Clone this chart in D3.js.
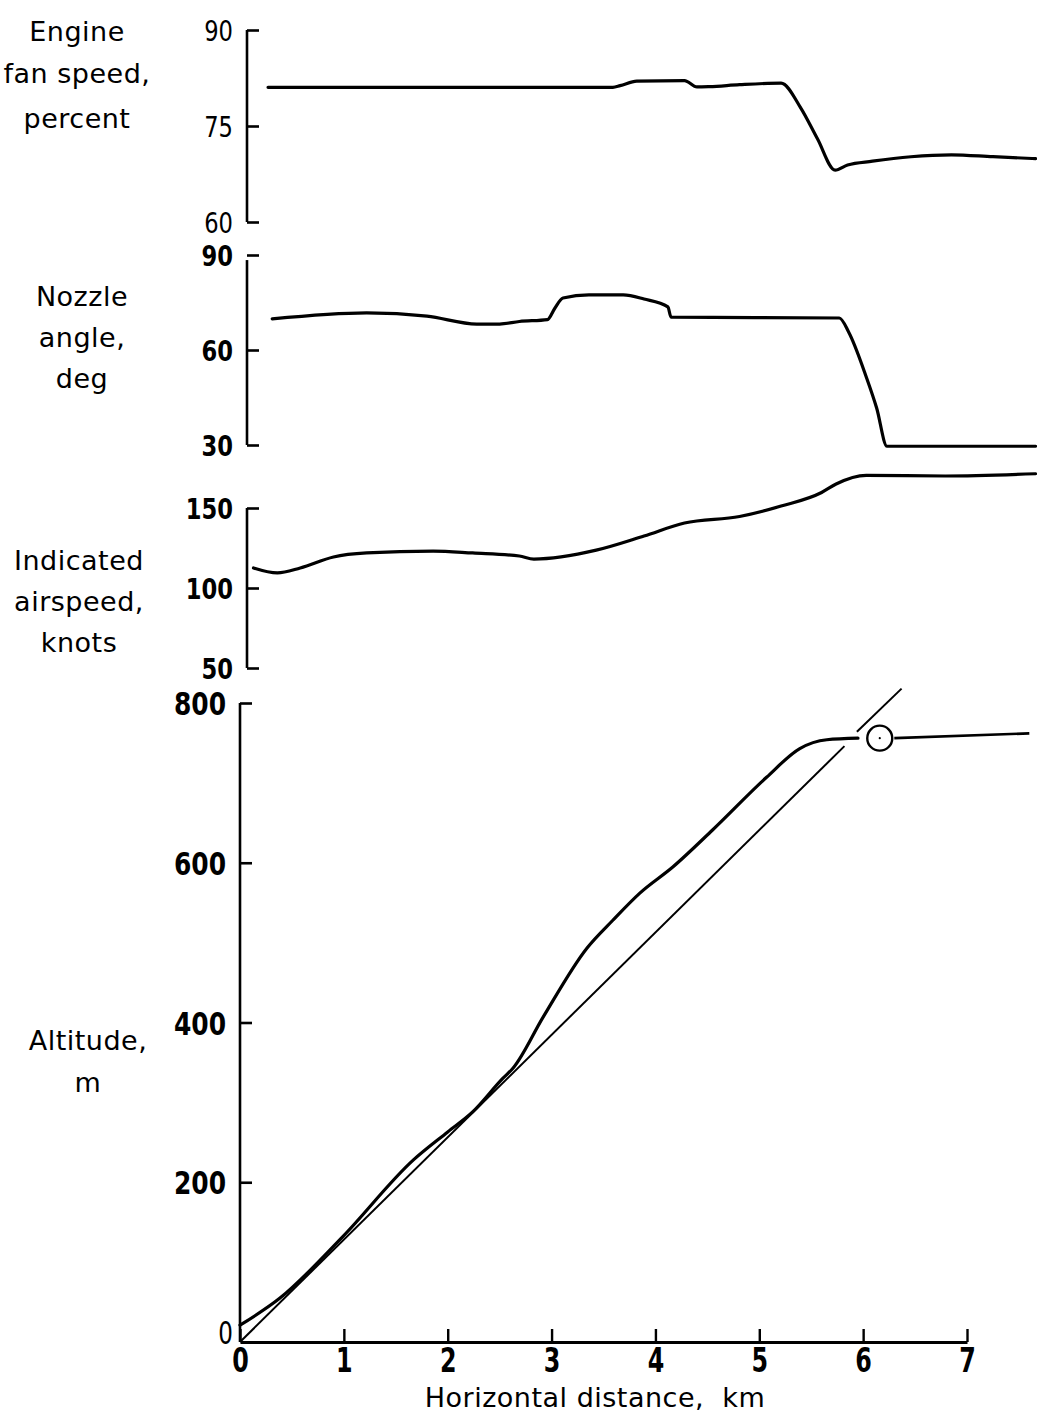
<!DOCTYPE html>
<html>
<head>
<meta charset="utf-8">
<script src="https://cdn.jsdelivr.net/npm/d3@7"></script>
<style>
  html, body { margin: 0; padding: 0; background: #fff; }
  svg { display: block; }
  .lbl { font-family: "DejaVu Sans", sans-serif; font-size: 27px; fill: #000; letter-spacing: 0.5px; white-space: pre; }
  .tk text, text.tk { font-family: "DejaVu Sans", sans-serif; fill: #000; }
</style>
</head>
<body>
<script>
// ---------- data (km, value) ----------
const xTicks = [0, 1, 2, 3, 4, 5, 6, 7];

const fanTicks = [60, 75, 90];
const fanKm  = [0.27, 3.59, 3.66, 3.82, 4.28, 4.40, 4.52, 4.81, 5.21, 5.40, 5.56, 5.73, 5.85, 6.09, 6.46, 6.85, 7.25, 7.66];
const fanPct = [81.05, 81.05, 81.3, 82.0, 82.1, 81.1, 81.15, 81.45, 81.7, 77.8, 73.0, 68.1, 68.9, 69.5, 70.2, 70.5, 70.2, 69.9];

const nozTicks = [30, 60, 90];
const nozKm  = [0.31, 1.22, 1.80, 2.28, 2.50, 2.69, 2.96, 3.03, 3.11, 3.36, 3.69, 3.89, 4.12, 4.15, 5.77, 5.86, 6.03, 6.13, 6.23, 7.66];
const nozDeg = [69.8, 71.7, 70.7, 68.2, 68.2, 69.0, 69.6, 73.1, 76.4, 77.4, 77.4, 76.1, 73.6, 70.4, 70.1, 65.7, 51.5, 41.7, 29.6, 29.6];

const iasTicks = [50, 100, 150];
const iasKm  = [0.13, 0.36, 0.58, 0.90, 1.22, 1.86, 2.24, 2.69, 2.83, 3.43, 3.89, 4.28, 4.81, 5.21, 5.60, 5.74, 6.03, 6.79, 7.66];
const iasKt  = [112.5, 109.4, 112.5, 119.4, 121.9, 123.1, 121.9, 120.0, 118.1, 123.7, 132.5, 140.6, 144.7, 151.2, 159.7, 165.0, 170.4, 170.0, 171.4];

const altTicks = [0, 200, 400, 600, 800];
const altKm = [0, 0.385, 0.99, 1.67, 2.0, 2.24, 2.53, 2.63, 2.92, 3.34, 3.59, 3.85, 4.17, 4.55, 5.07, 5.39, 5.65, 5.95];
const altM  = [21, 55, 132, 228, 263, 288, 330, 343, 407, 493, 528, 562, 595, 641, 707, 743, 754, 756];
const levelKm = [6.30, 7.60];
const levelM  = [756, 762];
const markerKm = 6.16, markerM = 756;
// straight reference glideslope (two pieces, broken where it crosses the trace)
const refKmA = [0, 5.82],  refMA = [0, 746];
const refKmB = [5.94, 6.37], refMB = [764, 818];

// ---------- layout ----------
const W = 1037, H = 1418;
const svg = d3.select("body").append("svg").attr("width", W).attr("height", H);
const x = d3.scaleLinear().domain([0, 7]).range([240, 967]);

// squeeze a text horizontally (condensed typeface look)
function squeeze(sel, f) {
  sel.each(function () {
    const w = this.getComputedTextLength();
    d3.select(this).attr("textLength", w * f).attr("lengthAdjust", "spacingAndGlyphs");
  });
}

const panels = [
  { ticks: fanTicks, domain: [60, 90], range: [222, 30], ax: 247, top: 90, km: fanKm, v: fanPct,
    label: ["Engine", "fan speed,", "percent"], lx: 77, ly: [31, 73, 118], fs: 28, bold: 400, tf: 29 },
  { ticks: nozTicks, domain: [30, 90], range: [445, 255], ax: 247, top: 88.4, km: nozKm, v: nozDeg,
    label: ["Nozzle", "angle,", "deg"], lx: 82, ly: [296, 337, 378], fs: 28, bold: 700, tf: 29 },
  { ticks: iasTicks, domain: [50, 150], range: [668, 508], ax: 247, top: 150, km: iasKm, v: iasKt,
    label: ["Indicated", "airspeed,", "knots"], lx: 79, ly: [560, 601, 642], fs: 28, bold: 700, tf: 29 },
  { ticks: altTicks, domain: [0, 800], range: [1342, 703], ax: 240, top: 800, km: altKm, v: altM,
    label: ["Altitude,", "m"], lx: 88, ly: [1040, 1082], fs: 28, bold: 700, tf: 32 }
];

const line = d3.line().curve(d3.curveMonotoneX);

panels.forEach((p, i) => {
  const y = d3.scaleLinear().domain(p.domain).range(p.range);
  p.y = y;
  const ticks = (i === 3) ? p.ticks.filter(t => t !== 0) : p.ticks;
  const g = svg.append("g").attr("class", "tk").attr("transform", `translate(${p.ax},0)`)
    .call(d3.axisLeft(y).tickValues(ticks).tickSize(-12).tickSizeOuter(0).tickPadding(14));
  g.select(".domain").remove();
  g.selectAll(".tick line").attr("stroke", "#000").attr("stroke-width", 2.6);
  const tt = g.selectAll(".tick text")
    .attr("font-size", p.tf)
    .attr("font-weight", p.bold)
    .attr("dy", "0.36em");
  squeeze(tt, 0.78);
  g.append("line").attr("x1", 0).attr("x2", 0)
    .attr("y1", y(p.top)).attr("y2", y(p.domain[0]))
    .attr("stroke", "#000").attr("stroke-width", 2.6);
  const t = svg.append("text").attr("class", "lbl").attr("text-anchor", "middle")
    .attr("font-size", p.fs);
  p.label.forEach((s, j) => {
    t.append("tspan").attr("x", p.lx).attr("y", p.ly[j]).attr("dy", "0.36em").text(s);
  });
  svg.append("path")
    .attr("d", line(p.km.map((k, j) => [x(k), y(p.v[j])])))
    .attr("fill", "none").attr("stroke", "#000").attr("stroke-width", 3.2)
    .attr("stroke-linejoin", "round").attr("stroke-linecap", "round");
});

// altitude extras
const ya = panels[3].y;
const straight = d3.line();
[[refKmA, refMA], [refKmB, refMB]].forEach(([ks, ms]) => {
  svg.append("path").attr("d", straight(ks.map((k, j) => [x(k), ya(ms[j])])))
    .attr("fill", "none").attr("stroke", "#000").attr("stroke-width", 2);
});
svg.append("path").attr("d", straight(levelKm.map((k, j) => [x(k), ya(levelM[j])])))
  .attr("fill", "none").attr("stroke", "#000").attr("stroke-width", 2.6);
svg.append("circle").attr("cx", x(markerKm)).attr("cy", ya(markerM)).attr("r", 12.5)
  .attr("fill", "none").attr("stroke", "#000").attr("stroke-width", 2.4);
svg.append("circle").attr("cx", x(markerKm)).attr("cy", ya(markerM)).attr("r", 1.1).attr("fill", "#000");

// y "0" label of altitude (sits just above the x-axis "0")
const z = svg.append("text").attr("class", "tk")
  .attr("x", 233).attr("y", ya(0) - 10).attr("text-anchor", "end").attr("dy", "0.36em")
  .attr("font-size", 32).text("0");
squeeze(z, 0.72);

// x axis
const gx = svg.append("g").attr("class", "tk").attr("transform", `translate(0,${ya(0)})`)
  .call(d3.axisBottom(x).tickValues(xTicks).tickFormat(d3.format("d")).tickSize(-13).tickSizeOuter(0).tickPadding(6));
gx.select(".domain").attr("stroke", "#000").attr("stroke-width", 2.8);
gx.selectAll(".tick line").attr("stroke", "#000").attr("stroke-width", 2.4);
const xt = gx.selectAll(".tick text").attr("font-size", 34).attr("font-weight", 700).attr("dy", "0.72em");
squeeze(xt, 0.7);

svg.append("text").attr("class", "lbl").attr("text-anchor", "middle")
  .attr("x", 595).attr("y", 1397).attr("dy", "0.36em").attr("font-size", 31)
  .attr("letter-spacing", 1.2)
  .text("Horizontal distance,  km");
</script>
</body>
</html>
